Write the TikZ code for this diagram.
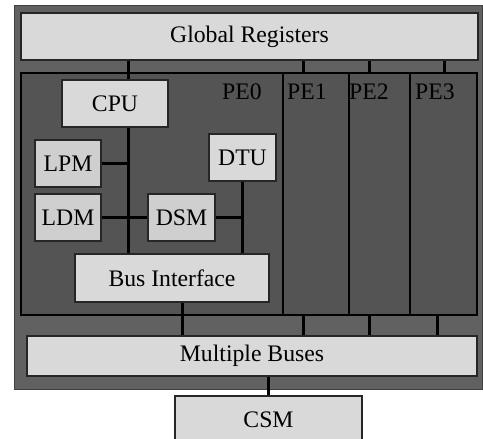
\documentclass[tikz,border=0pt]{standalone}
\usepackage{fontspec}
\setmainfont{Liberation Serif}
\begin{document}
\begin{tikzpicture}[x=1pt, y=-1pt,
    box/.style={draw=black!85, line width=1.5pt, fill=black!15, inner sep=0pt,
        font=\fontsize{23.7}{28}\selectfont},
    unit/.style={box, fill=black!19, minimum width=66pt, minimum height=47pt},
    petext/.style={font=\fontsize{23.7}{28}\selectfont, inner sep=0pt},
    wire/.style={line width=3pt, black}]

        \useasboundingbox (0,0) rectangle (483,439);

        % frame
        \node[draw=black!75, line width=1pt, fill=black!62, inner sep=0pt,
            minimum width=468pt, minimum height=384pt] (frame) at (248,197) {};

        % global registers
        \node[box, minimum width=457pt, minimum height=47pt] (glob) at (249.5,36.5) {Global Registers};

        % processing elements
        \node[draw=black, line width=2.5pt, fill=black!67, inner sep=0pt,
            minimum width=456pt, minimum height=242pt] (pes) at (249,194) {};

        % x positions of wires
        \coordinate (spine) at (128,0);
        \foreach \x/\n in {283/d1, 349/d2, 410/d3,
                           303/g1, 369/g2, 444/g3,
                           182/b0, 303/b1, 369/b2, 437/b3}
            \coordinate (\n) at (\x,0);

        % dividers between PEs
        \foreach \n in {d1, d2, d3}
            \draw[line width=2.5pt] (pes.north -| \n) -- (pes.south -| \n);

        % PE labels
        \foreach \x/\n in {242/0, 307/1, 369/2, 435/3}
            \node[petext] (pe\n) at (\x,92) {PE\n};

        % units of PE0
        \node[box, minimum width=106pt, minimum height=47pt] (cpu) at (115,103.5) {CPU};
        \node[unit] (lpm) at (68,163.5) {LPM};
        \node[unit] (ldm) at (68,217.5) {LDM};
        \node[unit, minimum width=67pt] (dsm) at (181.5,217.5) {DSM};
        \node[box, minimum width=67pt, minimum height=47pt] (dtu) at (242.5,157.5) {DTU};
        \node[box, minimum width=194pt, minimum height=48pt] (bif) at (172,278) {Bus Interface};

        % buses and shared memory
        \node[box, minimum width=450pt, minimum height=40pt] (mbus) at (252,356) {Multiple Buses};
        \node[box, minimum width=187pt, minimum height=48pt] (csm) at (268.5,420) {CSM};

        % wires inside PE0
        \draw[wire] (glob.south -| spine) -- (cpu.north -| spine);
        \draw[wire] (cpu.south -| spine) -- (bif.north -| spine);
        \draw[wire] (lpm.east) -- (lpm.east -| spine);
        \draw[wire] (ldm.east) -- (dsm.west);
        \draw[wire] (dsm.east) -- (dsm.east -| dtu);
        \draw[wire] (dtu.south) -- (bif.north -| dtu);

        % wires from global registers
        \foreach \n in {g1, g2, g3}
            \draw[wire] (glob.south -| \n) -- (pes.north -| \n);

        % wires to multiple buses
        \draw[wire] (bif.south -| b0) -- (mbus.north -| b0);
        \foreach \n in {b1, b2, b3}
            \draw[wire] (pes.south -| \n) -- (mbus.north -| \n);
        \draw[wire] (mbus.south -| csm) -- (csm.north);

\end{tikzpicture}
\end{document}
